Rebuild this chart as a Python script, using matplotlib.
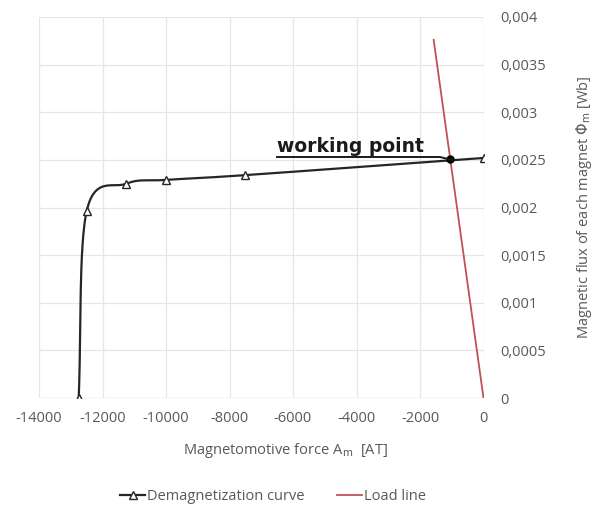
import numpy as np
import matplotlib
matplotlib.use("Agg")
import matplotlib.pyplot as plt
from matplotlib.lines import Line2D

# Data
demag_x = [-12750, -12500, -11250, -10000, -7500, 0]
demag_y = [0.0, 0.00196, 0.00225, 0.00229, 0.00234, 0.00252]
load_x = [0, -1570]
load_y = [0.0, 0.00376]
work_x = [-1050]
work_y = [0.00251]
xticks = [-14000, -12000, -10000, -8000, -6000, -4000, -2000, 0]
yticks = [0, 0.0005, 0.001, 0.0015, 0.002, 0.0025, 0.003, 0.0035, 0.004]
ytick_labels = ["0", "0,0005", "0,001", "0,0015", "0,002", "0,0025", "0,003", "0,0035", "0,004"]

plt.rcParams['font.family'] = ['Open Sans', 'DejaVu Sans']
plt.rcParams['axes.unicode_minus'] = False

W, H = 598, 505
FS = 10.5
fig = plt.figure(figsize=(W/100, H/100), dpi=100)
L, R, T, B = 39, 483.5, 17, 398
ax = fig.add_axes([L/W, 1-B/H, (R-L)/W, (B-T)/H])
ax.set_xlim(-14000, 0)
ax.set_ylim(0, 0.004)

# smooth (Catmull-Rom) rendering through the data points, in display-proportional space
def smooth(xs, ys, sx, sy, n=30):
    P = np.column_stack([np.array(xs)/sx, np.array(ys)/sy])
    P = np.vstack([2*P[0]-P[1], P, 2*P[-1]-P[-2]])
    out = []
    for i in range(1, len(P)-2):
        p0, p1, p2, p3 = P[i-1], P[i], P[i+1], P[i+2]
        t = np.linspace(0, 1, n)[:, None]
        seg = 0.5*((2*p1) + (-p0+p2)*t + (2*p0-5*p1+4*p2-p3)*t**2 + (-p0+3*p1-3*p2+p3)*t**3)
        out.append(seg)
    S = np.vstack(out)
    return S[:, 0]*sx, S[:, 1]*sy

sx_, sy_ = smooth(demag_x, demag_y, 14000/(R-L), 0.004/(B-T))
ax.plot(sx_, sy_, color='#262626', lw=1.6, zorder=3)
ax.plot(demag_x, demag_y, ls='none', marker='^', ms=6, mfc='white', mec='#262626', mew=1.0, zorder=4)
ax.plot(load_x, load_y, color='#c0505a', lw=1.3, zorder=3)
ax.plot(work_x, work_y, 'o', color='black', ms=5, zorder=5)

ax.set_xticks(xticks)
ax.set_xticklabels([str(v) for v in xticks])
ax.set_yticks(yticks)
ax.set_yticklabels(ytick_labels)
ax.yaxis.tick_right()
ax.yaxis.set_label_position('right')
ax.tick_params(length=0, labelsize=FS, labelcolor='#595959')
ax.tick_params(axis='y', pad=12)
ax.tick_params(axis='x', pad=9)
ax.grid(True, color='#e6e6e6', lw=0.9)
ax.set_axisbelow(True)
for s in ax.spines.values():
    s.set_visible(False)
ax.axhline(0, color='#d9d9d9', lw=0.9, zorder=1)

fig.text(285/W, 1-451/H, r"Magnetomotive force A$_{\mathrm{m}}$  [AT]", fontsize=FS,
         color='#595959', ha='center', va='center')
fig.text(584/W, 1-207/H, r"Magnetic flux of each magnet $\Phi$$_{\mathrm{m}}$ [Wb]", fontsize=FS,
         color='#595959', ha='center', va='center', rotation=90)

# working point annotation
fig.text(277/W, 1-152/H, "working point", fontsize=13.5, fontweight='bold',
         family=['DejaVu Sans'], color='#1a1a1a', va='baseline')
fig.add_artist(Line2D([277/W, 440/W, 452/W], [1-157/H, 1-157/H, 1-160/H],
                      color='#1a1a1a', lw=1.4))

h1 = Line2D([], [], color='#262626', lw=1.6, marker='^', ms=6, mfc='white', mec='#262626')
h2 = Line2D([], [], color='#c0505a', lw=1.3)
fig.legend([h1, h2], ["Demagnetization curve", "Load line"], loc='center',
           bbox_to_anchor=(273/W, 1-497/H), ncol=2, frameon=False, fontsize=FS,
           labelcolor='#595959', handlelength=1.7, handletextpad=0.15, columnspacing=2.2,
           borderpad=0, borderaxespad=0)

fig.savefig("out.png", dpi=100)
